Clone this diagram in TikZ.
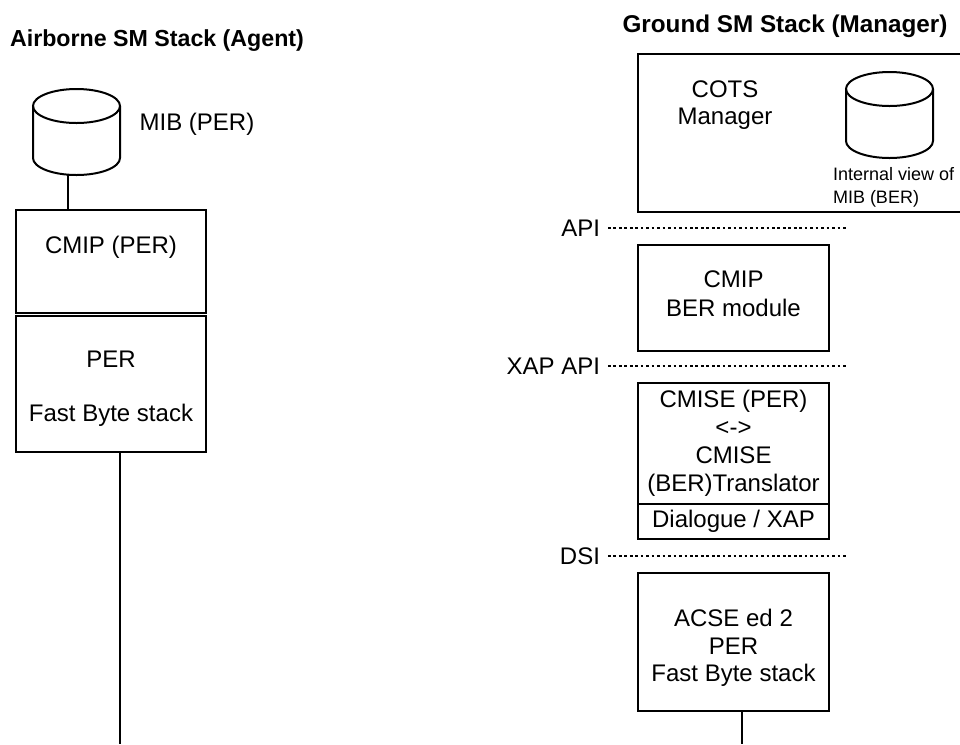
\documentclass[tikz,border=0pt]{standalone}
\usepackage{fontspec}
\setmainfont{Liberation Sans}

\tikzset{every picture/.style={line width=1.5pt}}
\tikzset{
	stackbox/.style={draw,inner sep=0pt,align=center,font=\fontsize{18pt}{21pt}\selectfont},
	mibdisk/.style={inner sep=0pt,minimum width=65.25pt,minimum height=64.5pt},
	plaintext/.style={inner sep=0pt,align=center,font=\fontsize{18pt}{20.7pt}\selectfont},
	smalltext/.style={inner sep=0pt,align=left,font=\fontsize{13.5pt}{17.5pt}\selectfont},
	titletext/.style={inner sep=0pt,font=\fontsize{18pt}{20.7pt}\selectfont\bfseries},
	apilabel/.style={plaintext,anchor=east,outer sep=6pt},
	apiline/.style={line width=1pt,dash pattern=on 2pt off 2.1pt}
}
\newcommand{\drawdisk}[1]{%
	\draw[shift={(#1.center)}] (0,-26) ellipse [x radius=43.5,y radius=17];
	\draw[shift={(#1.center)}] (-43.5,-26) -- (-43.5,26) arc [start angle=180,end angle=0,x radius=43.5,y radius=17] -- (43.5,-26);
}

\begin{document}
\begin{tikzpicture}[x=0.75pt,y=0.75pt,yscale=-1,xscale=1]
		\useasboundingbox (0,0) rectangle (960,744);

		% Airborne stack
		\node[titletext,font=\fontsize{17.4pt}{20pt}\selectfont\bfseries] (airtitle) at (157,41) {Airborne SM Stack (Agent)};
		\node[mibdisk] (mib) at (76.5,132) {};
		\drawdisk{mib}
		\node[plaintext] (mibtext) at (197,124) {MIB (PER)};
		\node[stackbox,minimum width=142.5pt,minimum height=77.25pt] (cmip) at (111,261.5) {};
		\node[plaintext] (cmiptext) at (111,247) {CMIP (PER)};
		\node[stackbox,minimum width=142.5pt,minimum height=102pt] (per) at (111,384) {};
		\node[plaintext] (pertext) at (111,389) {PER\\[20pt]Fast Byte stack};
		\coordinate (mibtie) at (68,175);
		\coordinate (airend) at (120,744);
		\draw (mibtie) -- (cmip.north -| mibtie);
		\draw (per.south -| airend) -- (airend);

		% Ground stack
		\node[titletext,font=\fontsize{18.2pt}{21pt}\selectfont\bfseries] (groundtitle) at (785,26) {Ground SM Stack (Manager)};
		\node[stackbox,minimum width=243pt,minimum height=118.5pt] (cots) at (800,133) {};
		\node[plaintext] (cotstext) at (725,105) {COTS\\Manager};
		\node[mibdisk] (view) at (889.5,115) {};
		\drawdisk{view}
		\node[smalltext,anchor=west] (viewtext) at (832,187) {Internal view of\\MIB (BER)};

		\node[apilabel] (api) at (608,228) {API};
		\node[stackbox,minimum width=143.25pt,minimum height=79.5pt] (ber) at (733.5,298) {};
		\node[plaintext,font=\fontsize{18pt}{21.75pt}\selectfont] (bertext) at (733.5,293.5) {CMIP\\BER module};
		\node[apilabel] (xap) at (608,366) {XAP API};
		\node[stackbox,minimum width=143.25pt,minimum height=90.75pt] (cmise) at (733.5,443.5) {CMISE (PER)\\\textless-\textgreater\\CMISE\\(BER)Translator};
		\node[stackbox,minimum width=143.25pt,minimum height=26.25pt] (dialogue) at (733.5,521.5) {Dialogue / XAP};
		\node[apilabel] (dsi) at (608,556) {DSI};
		\node[stackbox,minimum width=143.25pt,minimum height=103.5pt] (acse) at (733.5,642) {};
		\node[plaintext] (acsetext) at (733.5,648) {ACSE ed 2\\PER\\Fast Byte stack};

		\coordinate (apiend) at (847,228);
		\coordinate (xapend) at (847,366);
		\coordinate (dsiend) at (847,556);
		\coordinate (groundend) at (742,744);
		\draw[apiline] (api.east) -- (apiend);
		\draw[apiline] (xap.east) -- (xapend);
		\draw[apiline] (dsi.east) -- (dsiend);
		\draw (acse.south -| groundend) -- (groundend);

		\end{tikzpicture}
\end{document}
